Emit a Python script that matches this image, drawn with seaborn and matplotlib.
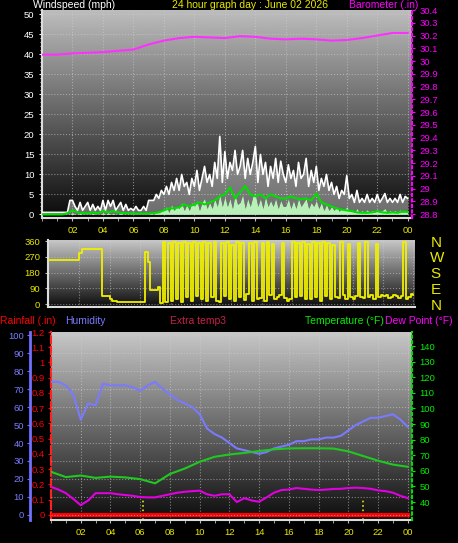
import numpy as np
import matplotlib
matplotlib.use("Agg")
import matplotlib.pyplot as plt
import seaborn as sns
from matplotlib.ticker import MultipleLocator

W, H = 458, 543

# ---- data (hours since midnight) ----
# wind gust, 10 minute steps
gust_mph = [
    0.5, 0.5, 0.5, 0.5, 0.5, 0.5,
    0.5, 0.5, 0.5, 0.5, 0.5, 3.5,
    3.5, 2, 1, 3, 1, 2,
    3, 1, 2.5, 1, 2, 1,
    3.5, 1, 3.5, 2, 3.5, 1,
    2, 3, 1, 2.5, 1, 1.5,
    1, 2, 1, 1, 2, 1,
    3.5, 3.5, 3.5, 5, 4, 6,
    5, 7, 5, 8, 6, 9,
    6, 10, 7, 8, 5, 9,
    7, 11, 6, 9, 12, 8,
    10, 7, 13, 9, 19.5, 8,
    15.7, 9, 13, 11, 16, 10,
    12, 16, 9, 14, 10, 13,
    17, 8, 15, 10, 13, 7,
    12, 9, 14, 8, 13.3, 10,
    8, 12.4, 9, 11, 7, 13,
    9, 10, 14, 7, 11, 8,
    12, 6, 9, 7, 10, 6,
    8, 5, 7, 4, 6, 5,
    9.7, 4, 5, 3, 6, 3,
    4, 3, 5, 3, 4, 3,
    5, 3, 4, 5.2, 3, 4,
    3, 4, 3, 5, 3, 4.5,
    4,
]
# wind speed, 10 minute steps
speed_mph = [
    0, 0, 0, 0, 0, 0,
    0, 0, 0, 0, 0, 0,
    0.5, 0, 0, 0.3, 0, 0,
    0, 0, 0.3, 0, 0, 0,
    0.5, 0, 0.5, 0, 0.3, 0,
    0, 0.3, 0, 0, 0, 0,
    0, 0, 0, 0, 0, 0,
    0, 0.5, 0, 0.8, 0.5, 1,
    1, 2, 0.5, 2.5, 1, 2,
    1.5, 3, 1, 2.5, 1, 3,
    2, 3.5, 1, 3, 4, 1.5,
    3, 1.5, 4, 2, 5, 2,
    4.5, 2, 4, 1.5, 5, 2.5,
    3, 5, 1.5, 4, 2, 4.5,
    5, 2, 4, 1.5, 4.5, 2,
    3.5, 2, 4, 1.5, 3.5, 2,
    2, 4, 1.5, 3.5, 1.5, 4,
    2, 3, 4, 1.5, 3, 2,
    3.5, 1.5, 3, 1, 2.5, 1,
    2, 1, 2, 0.8, 1.5, 1,
    2, 0.8, 1.2, 0.5, 1.5, 0.5,
    1, 0.5, 1.2, 0.5, 1, 0.5,
    1.2, 0.5, 1, 1.5, 0.5, 1,
    0.5, 1, 0.5, 1.2, 0.5, 1,
    1,
]
# average wind, 20 minute steps
avg_mph = [
    0, 0, 0, 0, 0, 0.3, 1, 0.5, 0.3, 0.3, 0.5, 0.3,
    0.8, 0.5, 0.8, 0.5, 0.3, 0.3, 0.2, 0.2, 0.2, 0.2, 0.3, 0.5,
    1, 1.5, 1.5, 1.8, 2.5, 2, 2.5, 3, 2.5, 3, 3.5, 4.5,
    5, 6.7, 4, 5.5, 7.1, 5, 4.5, 5, 4, 5, 4.5, 4,
    4, 4.5, 4, 3.8, 4, 3.5, 5.2, 3, 2.5, 2, 1.5, 1.2,
    1, 0.8, 0.5, 0.4, 0.4, 0.5, 0.8, 0.5, 0.4, 0.5, 0.4, 0.7,
    0.6,
]
# barometer, hourly
baro_in = [30.05, 30.05, 30.06, 30.065, 30.07, 30.08, 30.09, 30.13, 30.16,
           30.18, 30.19, 30.185, 30.18, 30.195, 30.19, 30.175, 30.17, 30.175,
           30.17, 30.16, 30.165, 30.18, 30.2, 30.22, 30.22]
# wind direction, 10 minute steps
wind_dir = [
    250, 250, 250, 250, 250, 250,
    250, 250, 250, 250, 250, 250,
    290, 315, 315, 315, 315, 315,
    315, 315, 315, 45, 45, 45,
    30, 20, 15, 10, 10, 10,
    10, 10, 10, 10, 10, 10,
    10, 10, 300, 240, 80, 80,
    80, 100, 5, 355, 10, 350,
    20, 355, 30, 350, 10, 355,
    40, 350, 20, 355, 45, 350,
    30, 355, 15, 350, 40, 355,
    20, 10, 350, 45, 355, 30,
    340, 20, 355, 40, 350, 25,
    60, 350, 20, 355, 30, 35,
    350, 20, 355, 50, 345, 30,
    40, 50, 350, 35, 20, 30,
    355, 40, 350, 45, 355, 30,
    345, 30, 355, 40, 350, 20,
    355, 45, 350, 30, 340, 40,
    35, 355, 50, 30, 345, 40,
    30, 45, 350, 40, 35, 355,
    40, 50, 30, 345, 40, 50,
    45, 50, 35, 40, 50, 45,
    35, 45, 355, 30, 40, 55,
    50,
]
# humidity, 30 minute steps
humidity = [74, 74, 72, 67, 53, 62, 61, 73, 72, 72, 72, 71, 69, 72, 74, 70,
            67, 64, 62, 60, 56, 48, 45, 43, 40, 37, 36, 35, 34, 35, 37, 38,
            39, 41, 41, 42, 42, 43, 43, 44, 47, 50, 52, 54, 54, 55, 56, 53, 49]
# temperature, hourly
temp_f = [59.4, 56, 57, 55.5, 56.3, 55.8, 54.7, 52, 58, 61.5, 65.8, 69, 70.5,
          71.5, 72.7, 73.8, 74.4, 74.5, 74.5, 74.3, 72.5, 69.5, 66.5, 64, 62.6]
# dew point, 30 minute steps
dewpt_f = [49.8, 48, 45.7, 42, 38, 41, 45.7, 45.7, 45.7, 45, 44.5, 44, 43.2, 43,
           43, 44, 45, 46, 46.6, 47, 47.3, 45, 44, 45, 45, 40, 42.5, 41, 40.2, 43,
           46, 47.7, 48, 49, 48.5, 48, 47.7, 48, 48.4, 48.5, 49, 49.2, 49, 48.5,
           47.5, 47, 46, 44, 42.5]
rain_hours = [0, 24]
rain_in = [0.0, 0.0]
marker_hours = [6.2, 21.0]
hour_ticks = list(range(2, 25, 2))
hour_labels = ['02', '04', '06', '08', '10', '12', '14', '16', '18', '20', '22', '00']

t10 = np.arange(len(gust_mph)) / 6
t20 = np.arange(len(avg_mph)) / 3
t30 = np.arange(len(humidity)) / 2
t60 = np.arange(len(temp_f))

plt.rcParams['font.family'] = ['Liberation Sans', 'DejaVu Sans']
YEL = '#e8e800'
GRID = dict(color='#d0d0d0', linestyle=':', linewidth=0.8, alpha=0.55)
TS = 6.8


def box(l, t, r, b):
    return [l / W, 1 - b / H, (r - l) / W, (b - t) / H]


def shade(ax, top, bottom):
    grad = np.linspace(top, bottom, 256).reshape(-1, 1)
    ax.imshow(grad, cmap='gray', vmin=0, vmax=1, aspect='auto', extent=[0, 1, 0, 1],
              transform=ax.transAxes, zorder=0, interpolation='bilinear')


def fmt(vals):
    return [f'{v:g}' for v in np.round(vals, 1)]


fig = plt.figure(figsize=(W / 100, H / 100), dpi=100, facecolor='black')

# ---------------- wind speed / barometer ----------------
ax1 = fig.add_axes(box(42, 10, 412, 218))
shade(ax1, 0.74, 0.04)
ax1.fill_between(t10, speed_mph, gust_mph, color='white', alpha=0.4, lw=0, zorder=2)
ax1.fill_between(t10, 0, speed_mph, color='#b8f0b8', lw=0, zorder=3)
sns.lineplot(x=t10, y=gust_mph, ax=ax1, color='white', lw=1.2, zorder=4)
sns.lineplot(x=t20, y=avg_mph, ax=ax1, color='#00e000', lw=1.5, zorder=5)
ax1.set_xlim(0, 24.28)
ax1.set_ylim(-0.9, 51.1)
ax1.set_xticks(hour_ticks, hour_labels)
ax1.xaxis.set_minor_locator(MultipleLocator(1))
ax1.set_yticks(range(0, 51, 5))
ax1.yaxis.set_minor_locator(MultipleLocator(1))
ax1.tick_params(axis='x', which='both', color='#bbbbbb', labelcolor=YEL, labelsize=TS, length=2.5, pad=3)
ax1.tick_params(axis='y', which='both', color='white', labelcolor='white', labelsize=TS, length=2.5, pad=3)
ax1.tick_params(axis='y', which='minor', length=1.5)
ax1.grid(True, **GRID)
for s in ['top', 'right']:
    ax1.spines[s].set_visible(False)
for s in ['left', 'bottom']:
    ax1.spines[s].set_color('#dddddd')
    ax1.spines[s].set_linewidth(1.5)

ax1b = ax1.twinx()
sns.lineplot(x=t60, y=baro_in, ax=ax1b, color='#ff30ff', lw=1.5)
ax1b.set_ylim(28.77, 30.39)
bt = np.arange(28.8, 30.45, 0.1)
ax1b.set_yticks(bt, fmt(bt))
ax1b.tick_params(axis='y', color='#ff00ff', labelcolor='#ff00ff', labelsize=TS, length=2.5, pad=3)
for s in ['top', 'left', 'bottom']:
    ax1b.spines[s].set_visible(False)
ax1b.spines['right'].set_color('#ff00ff')
ax1b.spines['right'].set_linestyle(':')
ax1b.spines['right'].set_linewidth(1.5)

# ---------------- wind direction ----------------
ax2 = fig.add_axes(box(48, 240, 415, 307))
shade(ax2, 0.78, 0.05)
sns.lineplot(x=t10, y=wind_dir, ax=ax2, color='#f0f000', lw=1.3, drawstyle='steps-post', zorder=3)
ax2.set_xlim(-0.07, 24.1)
ax2.set_ylim(-17, 366)
ax2.set_xticks(hour_ticks)
ax2.tick_params(axis='x', labelbottom=False, length=0)
ax2.set_yticks([0, 90, 180, 270, 360])
ax2.tick_params(axis='y', color='#bbbbbb', labelcolor=YEL, labelsize=TS, length=2.5, pad=3)
ax2.grid(True, **GRID)
for s in ['top', 'right']:
    ax2.spines[s].set_visible(False)
for s in ['left', 'bottom']:
    ax2.spines[s].set_color('#dddddd')
    ax2.spines[s].set_linewidth(1.5)

ax2r = ax2.twinx()
ax2r.set_ylim(-17, 366)
ax2r.set_yticks([0, 90, 180, 270, 360], ['N', 'E', 'S', 'W', 'N'])
ax2r.tick_params(axis='y', length=0, labelcolor=YEL, labelsize=11, pad=11)
for s in ax2r.spines.values():
    s.set_visible(False)

# ---------------- rain / humidity / temperature ----------------
ax3 = fig.add_axes(box(51, 332, 412, 520))
shade(ax3, 0.78, 0.05)
for h in marker_hours:
    ax3.axvline(h, ymin=0, ymax=0.11, color=YEL, ls=':', lw=1.2, zorder=2)
sns.lineplot(x=rain_hours, y=rain_in, ax=ax3, color='#ff0000', lw=3, zorder=4)
ax3.set_xlim(0, 24.28)
ax3.set_ylim(-0.033, 1.2)
rt = np.arange(0, 1.25, 0.1)
ax3.set_yticks(rt, fmt(rt))
ax3.set_xticks(hour_ticks, hour_labels)
ax3.xaxis.set_minor_locator(MultipleLocator(1))
ax3.tick_params(axis='x', which='both', color='#bbbbbb', labelcolor=YEL, labelsize=TS, length=2.5, pad=3)
ax3.tick_params(axis='y', color='#ff0000', labelcolor='#ff0000', labelsize=TS, length=2.5, pad=2)
ax3.grid(True, axis='x', **GRID)
ax3.spines['top'].set_visible(False)
ax3.spines['right'].set_visible(False)
ax3.spines['bottom'].set_color('#dddddd')
ax3.spines['bottom'].set_linewidth(1.5)
ax3.spines['left'].set_color('#ff2020')
ax3.spines['left'].set_linestyle('--')
ax3.spines['left'].set_linewidth(1.5)

ax3h = ax3.twinx()
ax3h.yaxis.set_ticks_position('left')
ax3h.spines['left'].set_position(('outward', 15))
ax3h.spines['left'].set_visible(True)
for s in ['top', 'right', 'bottom']:
    ax3h.spines[s].set_visible(False)
ax3h.spines['left'].set_color('#7070ff')
ax3h.spines['left'].set_linewidth(2)
sns.lineplot(x=t30, y=humidity, ax=ax3h, color='#7a7aff', lw=1.5, zorder=3)
ax3h.set_ylim(-2.8, 101.7)
ax3h.set_yticks(range(0, 101, 10))
ax3h.tick_params(axis='y', color='#7070ff', labelcolor='#7a7aff', labelsize=TS, length=2.5, pad=2)
ax3h.grid(True, axis='y', **GRID)

ax3t = ax3.twinx()
sns.lineplot(x=t60, y=temp_f, ax=ax3t, color='#20c820', lw=1.5)
sns.lineplot(x=t30, y=dewpt_f, ax=ax3t, color='#e000e0', lw=1.5)
ax3t.set_ylim(28.5, 149)
ax3t.set_yticks(range(40, 141, 10))
ax3t.tick_params(axis='y', color='#00ee00', labelcolor='#00ee00', labelsize=TS, length=2.5, pad=3)
for s in ['top', 'left', 'bottom']:
    ax3t.spines[s].set_visible(False)
ax3t.spines['right'].set_color('#00dd00')
ax3t.spines['right'].set_linestyle(':')
ax3t.spines['right'].set_linewidth(1.5)

for a in [ax1, ax1b, ax2, ax2r, ax3, ax3h, ax3t]:
    a.set_xlabel('')
    a.set_ylabel('')

# ---------------- header texts ----------------
def label(x, y, s, c, ha='left'):
    fig.text(x / W, 1 - y / H, s, color=c, fontsize=7.5, ha=ha, va='center')


label(33, 4.5, 'Windspeed (mph)', 'white')
label(250, 4.5, '24 hour graph day : June 02 2026', YEL, ha='center')
label(418, 4.5, 'Barometer (.in)', '#ff00ff', ha='right')
label(0, 321, 'Rainfall (.in)', '#ff0000')
label(65, 321, 'Humidity', '#7a7aff')
label(170, 321, 'Extra temp3', '#c8204a')
label(384, 321, 'Temperature (°F)', '#00ee00', ha='right')
label(385, 321, 'Dew Point (°F)', '#ff00ff')

fig.savefig('out.png', dpi=100, facecolor='black')
